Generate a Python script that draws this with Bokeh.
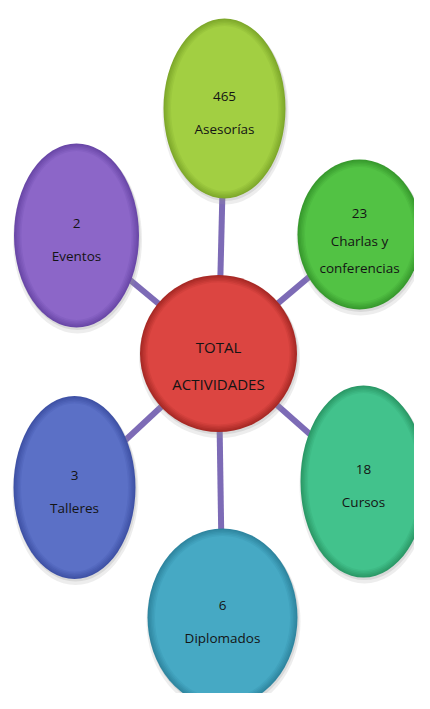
from bokeh.plotting import figure
from bokeh.models import Range1d
from bokeh.core.properties import value
from bokeh.embed import file_html
from bokeh.resources import INLINE

# ---- data ----
center_lines = ["TOTAL", "ACTIVIDADES"]
labels = ["Asesorías", "Charlas y\nconferencias", "Cursos", "Diplomados", "Talleres", "Eventos"]
counts = [465, 23, 18, 6, 3, 2]

# ---- layout / style (reference pixel coords: x right, y down) ----
W, H = 430, 709
center_pos = (218, 353)
center_size = (157, 157)
node_pos = [(224, 108), (359, 234), (363, 481), (222, 617), (74, 487), (76, 235)]
node_size = [(122, 180), (124, 150), (126, 192), (150, 178), (122, 183), (125, 184)]
node_fill = ["#a2cf42", "#52c244", "#42c28c", "#46a9c4", "#5b70c6", "#8c66c8"]
node_rim = ["#7fa92c", "#389a2e", "#2c9a68", "#2f86a0", "#3f52a6", "#6a48a8"]
center_fill, center_rim = "#dc4541", "#a82a26"
link_color = "#7d6bb6"
font = "Open Sans"

def Y(y):
    return H - y

p = figure(width=414, height=693, x_range=Range1d(0, 414), y_range=Range1d(H - 693, H),
           output_backend="svg", toolbar_location=None, min_border=0,
           background_fill_color="white", border_fill_color="white")
p.axis.visible = False
p.grid.visible = False
p.outline_line_color = None

# connectors
cx, cy = center_pos
for (nx, ny) in node_pos:
    p.line([cx, nx], [Y(cy), Y(ny)], line_color=link_color, line_width=6)

def hex2rgb(c):
    return tuple(int(c[i:i + 2], 16) for i in (1, 3, 5))

def blob(x, y, w, h, fill, rim):
    # soft drop shadow
    p.ellipse(x + 1, Y(y + 4), w + 4, h + 4, fill_color="#9a9a9a", fill_alpha=0.18, line_color=None)
    p.ellipse(x + 1, Y(y + 2), w + 1, h + 1, fill_color="#8a8a8a", fill_alpha=0.2, line_color=None)
    # rim shading
    p.ellipse(x, Y(y), w, h, fill_color=rim, line_color=None)
    steps = 5
    r0, g0, b0 = hex2rgb(rim)
    r1, g1, b1 = hex2rgb(fill)
    for k in range(1, steps + 1):
        t = k / steps
        col = "#%02x%02x%02x" % (round(r0 + (r1 - r0) * t), round(g0 + (g1 - g0) * t), round(b0 + (b1 - b0) * t))
        s = 1.5 * k
        p.ellipse(x, Y(y), w - 2 * s, h - 2 * s, fill_color=col, line_color=None)

for (x, y), (w, h), f, r in zip(node_pos, node_size, node_fill, node_rim):
    blob(x, y, w, h, f, r)
blob(cx, cy, center_size[0], center_size[1], center_fill, center_rim)

text_color = "#141414"
for (x, y), lab, n in zip(node_pos, labels, counts):
    lines = [str(n)] + lab.split("\n")
    gap = 32 if len(lines) == 2 else 27
    mid = y + (4 if len(lines) == 2 else 6)
    start = mid - gap * (len(lines) - 1) / 2
    ys = [Y(start + i * gap) for i in range(len(lines))]
    p.text([x] * len(lines), ys, text=lines, text_align="center", text_baseline="middle",
           text_font=value(font), text_font_size="13.5px", text_color=text_color)

gap = 37
mid = cy + 12
ys = [Y(mid - gap / 2), Y(mid + gap / 2)]
p.text([cx, cx], ys, text=center_lines, text_align="center", text_baseline="middle",
       text_font=value(font), text_font_size="15px", text_color=text_color)

open("out.html", "w").write(file_html(p, INLINE))
